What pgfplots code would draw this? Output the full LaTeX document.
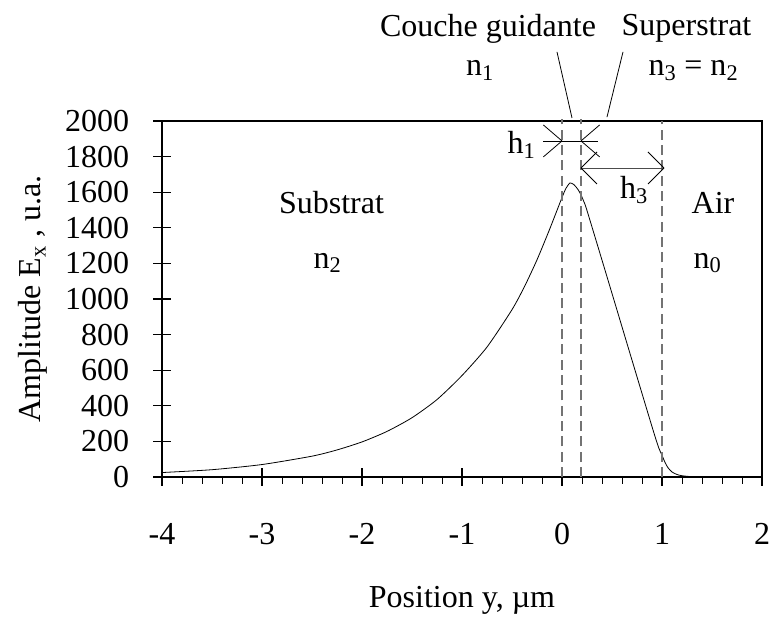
\documentclass[border=0pt]{standalone}
\usepackage{pgfplots}
\pgfplotsset{compat=1.18}
\usepackage{fontspec}
\setmainfont{Liberation Serif}

\pgfplotstableread{
x y
-4.00 25
-3.50 41
-3.00 70
-2.50 117
-2.25 152
-2.00 197
-1.75 256
-1.50 333
-1.25 435
-1.00 570
-0.75 730
-0.50 940
-0.375 1070
-0.25 1220
-0.125 1390
0.00 1570
0.04 1622
0.08 1652
0.12 1642
0.16 1615
0.19 1585
0.22 1545
0.25 1497
0.45 1125
0.65 750
0.85 376
0.93 228
0.97 160
1.00 122
1.03 82
1.06 52
1.10 28
1.15 14
1.20 7
1.30 2
1.50 0
2.00 0
}\champ

\begin{document}
\fontsize{24}{29}\selectfont
\begin{tikzpicture}[every node/.append style={font=\fontsize{24}{29}\selectfont}]
\begin{axis}[
    scale only axis,
    width=450pt, height=267pt,
    xmin=-4, xmax=2, ymin=0, ymax=2000,
    xtick={-4,-3,...,2}, ytick={0,200,...,2000},
    minor x tick num=4,
    axis line style={line width=1.6pt},
    tick align=center,
    major tick length=13pt,
    minor tick length=5pt,
    major tick style={line width=0.9pt, black},
    minor x tick style={line width=0.7pt, black, yshift=-2.5pt},
    xtick pos=bottom, ytick pos=left,
    /pgf/number format/assume math mode=true,
    /pgf/number format/1000 sep={},
    tick label style={font=\fontsize{24}{29}\selectfont},
    xticklabel style={anchor=center, yshift=-36pt},
    yticklabel style={anchor=east, xshift=-10pt},
    xlabel={Position y, µm},
    ylabel={Amplitude E\textsubscript{x} , u.a.},
    label style={font=\fontsize{24}{29}\selectfont},
    xlabel style={at={(axis description cs:0.5,-0.3455)}, anchor=center},
    ylabel style={at={(axis description cs:-0.215,0.5)}, anchor=center},
    clip=false,
]
\addplot[black, line width=0.6pt, smooth, tension=0.4] table[x=x, y=y] {\champ};
\addplot[black!55, line width=0.8pt, dash pattern=on 7.5pt off 4pt] coordinates {(0,0) (0,2010)};
\addplot[black!55, line width=0.8pt, dash pattern=on 7.5pt off 4pt] coordinates {(0.19,0) (0.19,2010)};
\addplot[black!55, line width=0.8pt, dash pattern=on 7.5pt off 4pt] coordinates {(1,0) (1,2000)};

% annotations
\node[anchor=base] at (axis cs:-0.74,2472) {Couche guidante};
\node[anchor=base] at (axis cs:-0.82,2258) {n\textsubscript{1}};
\node[anchor=base] at (axis cs:1.245,2478) {Superstrat};
\node[anchor=base] at (axis cs:1.315,2253) {n\textsubscript{3} = n\textsubscript{2}};
\node[anchor=base] at (axis cs:-2.305,1483) {Substrat};
\node[anchor=base] at (axis cs:-2.345,1174) {n\textsubscript{2}};
\node[anchor=base] at (axis cs:1.51,1483) {Air};
\node[anchor=base] at (axis cs:1.455,1174) {n\textsubscript{0}};
\node[anchor=base] at (axis cs:-0.405,1820) {h\textsubscript{1}};
\node[anchor=base] at (axis cs:0.72,1567) {h\textsubscript{3}};

\draw[line width=0.6pt] (axis cs:-0.05,2388) -- (axis cs:0.10,2017);
\draw[line width=0.6pt] (axis cs:0.61,2388) -- (axis cs:0.45,2022);

% h1
\draw[line width=0.6pt] (axis cs:-0.19,1888) -- (axis cs:0.36,1888);
\draw[line width=0.6pt] (axis cs:0,1888) -- ++(-14pt,12pt) (axis cs:0,1888) -- ++(-14pt,-12pt);
\draw[line width=0.6pt] (axis cs:0.19,1888) -- ++(14pt,12pt) (axis cs:0.19,1888) -- ++(14pt,-12pt);
% h3
\draw[line width=0.6pt, black!70] (axis cs:0.19,1736) -- (axis cs:1.02,1736);
\draw[line width=0.6pt] (axis cs:0.19,1736) -- ++(12pt,12pt) (axis cs:0.19,1736) -- ++(12pt,-12pt);
\draw[line width=0.6pt] (axis cs:1.02,1736) -- ++(-12pt,12pt) (axis cs:1.02,1736) -- ++(-12pt,-12pt);
\end{axis}
\pgfresetboundingbox
\path ([shift={(-121.5pt,-106.5pt)}]current axis.south west) rectangle ([shift={(6.75pt,90.75pt)}]current axis.north east);
\end{tikzpicture}
\end{document}
